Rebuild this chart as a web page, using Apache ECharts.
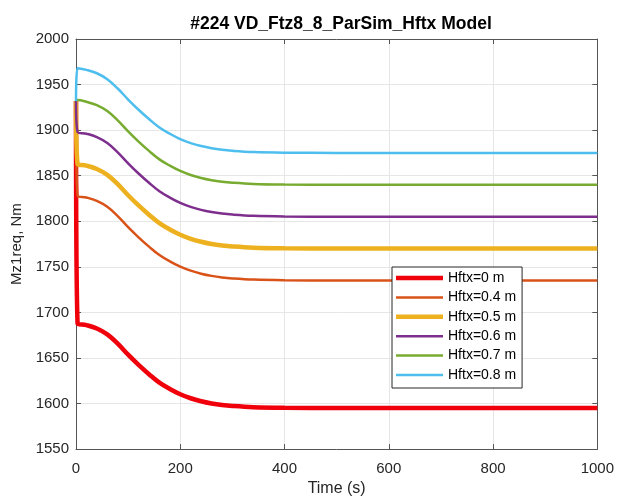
<!DOCTYPE html>
<html>
<head>
<meta charset="utf-8">
<script src="https://cdn.jsdelivr.net/npm/echarts@6/dist/echarts.min.js"></script>
<style>html,body{margin:0;padding:0;background:#fff;}#c{width:617px;height:502px;}</style>
</head>
<body>
<div id="c"></div>
<script>
const titleText = '#224 VD_Ftz8_8_ParSim_Hftx Model';
const xLabel = 'Time (s)';
const yLabel = 'Mz1req, Nm';
const seriesNames = ['Hftx=0 m','Hftx=0.4 m','Hftx=0.5 m','Hftx=0.6 m','Hftx=0.7 m','Hftx=0.8 m'];
const time = [0, 3, 20, 40, 60, 80, 100, 120, 140, 160, 180, 200, 220, 240, 260, 280, 300, 340, 400, 500, 600, 800, 1000];
const h0  = [1932, 1688, 1686.1, 1682.4, 1675.9, 1665.7, 1653.6, 1642.4, 1632.2, 1622.9, 1616.0, 1610.2, 1605.8, 1602.5, 1600.1, 1598.4, 1597.3, 1596.0, 1595.3, 1595, 1595, 1595, 1595];
const h04 = [1932, 1828, 1826.1, 1822.4, 1815.9, 1805.7, 1793.6, 1782.4, 1772.2, 1762.9, 1756.0, 1750.2, 1745.8, 1742.5, 1740.1, 1738.4, 1737.3, 1736.0, 1735.3, 1735, 1735, 1735, 1735];
const h05 = [1932, 1863, 1861.1, 1857.4, 1850.9, 1840.7, 1828.6, 1817.4, 1807.2, 1797.9, 1791.0, 1785.2, 1780.8, 1777.5, 1775.1, 1773.4, 1772.3, 1771.0, 1770.3, 1770, 1770, 1770, 1770];
const h06 = [1932, 1898, 1896.1, 1892.4, 1885.9, 1875.7, 1863.6, 1852.4, 1842.2, 1832.9, 1826.0, 1820.2, 1815.8, 1812.5, 1810.1, 1808.4, 1807.3, 1806.0, 1805.3, 1805, 1805, 1805, 1805];
const h07 = [1932, 1933, 1931.1, 1927.4, 1920.9, 1910.7, 1898.6, 1887.4, 1877.2, 1867.9, 1861.0, 1855.2, 1850.8, 1847.5, 1845.1, 1843.4, 1842.3, 1841.0, 1840.3, 1840, 1840, 1840, 1840];
const h08 = [1932, 1968, 1966.1, 1962.4, 1955.9, 1945.7, 1933.6, 1922.4, 1912.2, 1902.9, 1896.0, 1890.2, 1885.8, 1882.5, 1880.1, 1878.4, 1877.3, 1876.0, 1875.3, 1875, 1875, 1875, 1875];
const allValues = [h0, h04, h05, h06, h07, h08];
const colors = ['#f0000a', '#d95319', '#edb120', '#7e2f8e', '#77ac30', '#4dbeee'];
const widths = [4.5, 2.5, 4.5, 2.5, 2.5, 2.5];

const chart = echarts.init(document.getElementById('c'), null, {renderer: 'canvas'});
const font = 'Liberation Sans, Arial, sans-serif';
const plain = v => String(v);
const axisCommon = {
  axisLine: {show: true, onZero: false, lineStyle: {color: '#555555', width: 1}},
  axisTick: {show: true, inside: true, length: 5, lineStyle: {color: '#555555'}},
};
chart.setOption({
  animation: false,
  backgroundColor: '#fff',
  title: {text: titleText, left: 336, top: 10, textAlign: 'center',
    textStyle: {fontFamily: font, fontSize: 17.5, fontWeight: 'bold', color: '#000'}},
  grid: {left: 76, right: 17, top: 39, bottom: 51, show: false},
  legend: {
    orient: 'vertical', left: 392, top: 267,
    data: seriesNames.map((n, i) => ({
      name: n,
      icon: 'path://M0,0H47V' + widths[i] + 'H0Z'
    })),
    itemWidth: 47, itemHeight: 14, itemGap: 5.4,
    padding: [4, 6, 6, 4],
    borderColor: '#262626', borderWidth: 1, backgroundColor: '#fff',
    textStyle: {fontFamily: font, fontSize: 14, color: '#000'}
  },
  xAxis: [
    Object.assign({type: 'value', min: 0, max: 1000, interval: 200, position: 'bottom',
      name: xLabel, nameLocation: 'middle', nameGap: 28,
      nameTextStyle: {fontFamily: font, fontSize: 16, color: '#262626'},
      axisLabel: {fontFamily: font, fontSize: 15, color: '#262626', margin: 12, formatter: plain},
      splitLine: {show: true, lineStyle: {color: '#e6e6e6', width: 1}}}, axisCommon),
    Object.assign({type: 'value', min: 0, max: 1000, interval: 200, position: 'top',
      axisLabel: {show: false}, splitLine: {show: false}}, axisCommon)
  ],
  yAxis: [
    Object.assign({type: 'value', min: 1550, max: 2000, interval: 50, position: 'left',
      name: yLabel, nameLocation: 'middle', nameGap: 43,
      nameTextStyle: {fontFamily: font, fontSize: 15, color: '#262626'},
      axisLabel: {fontFamily: font, fontSize: 15, color: '#262626', margin: 7, formatter: plain},
      splitLine: {show: true, lineStyle: {color: '#e6e6e6', width: 1}}}, axisCommon),
    Object.assign({type: 'value', min: 1550, max: 2000, interval: 50, position: 'right',
      axisLabel: {show: false}, splitLine: {show: false}}, axisCommon)
  ],
  series: seriesNames.map((n, i) => ({
    name: n, type: 'line', showSymbol: false, symbol: 'none',
    smooth: 0.4,
    data: time.map((t, k) => [t, allValues[i][k]]),
    lineStyle: {color: colors[i], width: widths[i]},
    itemStyle: {color: colors[i]},
    z: 2 + i
  }))
});
</script>
</body>
</html>
